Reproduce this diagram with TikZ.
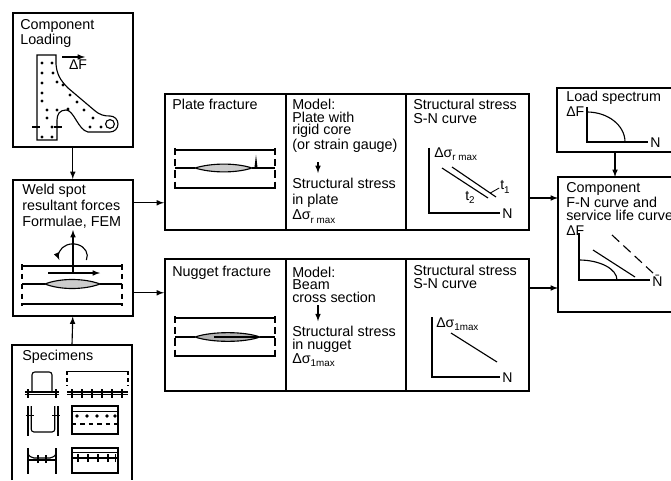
\documentclass[tikz,border=0pt]{standalone}
\usepackage{fontspec}
\setmainfont{Liberation Sans}
\newcommand{\lowtxt}[1]{\raisebox{-0.45ex}{\fontsize{7}{7}\selectfont #1}}
\newcommand{\dsig}[1]{Δσ\lowtxt{#1}}
\tikzset{
	box/.style={draw,line width=1.1pt,anchor=north west,inner sep=0pt},
	boxline/.style={line width=1.1pt},
	txt/.style={anchor=north west,inner sep=0pt,align=left,font=\fontsize{10.2}{#1}\selectfont},
	txt/.default=10pt,
	lbl/.style={inner sep=0pt,font=\fontsize{10}{10}\selectfont},
	fig/.style={thick},
	flow/.style={->,>=latex,thick},
	lens/.style={thick,fill=gray!40}
}
\begin{document}
\begin{tikzpicture}
	\useasboundingbox (0,0) rectangle (16.775,12);
	%boxes
	\node[box,minimum width=3cm,minimum height=3.35cm] (cl) at (0.3,11.7) {};		%component loading
	\node[box,minimum width=3cm,minimum height=3.4cm] (ws) at (0.3,7.525) {};		%weld spot
	\draw[boxline] (0.3,0) |- (3.3,3.375) -- (3.3,0);								%specimens
	\coordinate (sp) at (1.8,3.375);
	\node[box,minimum width=3.025cm,minimum height=3.4cm] (pf) at (4.1,9.675) {};
	\node[box,minimum width=3cm,minimum height=3.4cm] (pm) at (7.125,9.675) {};
	\node[box,minimum width=3.075cm,minimum height=3.4cm] (ps) at (10.125,9.675) {};
	\node[box,minimum width=3.025cm,minimum height=3.3cm] (nf) at (4.1,5.55) {};
	\node[box,minimum width=3cm,minimum height=3.3cm] (nm) at (7.125,5.55) {};
	\node[box,minimum width=3.075cm,minimum height=3.3cm] (ns) at (10.125,5.55) {};
	\draw[boxline] (16.775,9.8) -| (13.925,8.2) -- (16.775,8.2);					%load spectrum
	\draw[boxline] (16.775,7.575) -| (13.95,4.2) -- (16.775,4.2);					%component curve
	\coordinate (ls) at (15.375,8.2);
	\coordinate (cf) at (15.375,7.575);
	\coordinate (cf1) at (13.95,7.05);
	\coordinate (cf2) at (13.95,4.8);
	\coordinate (w1) at ([yshift=1.125cm]ws.east);
	\coordinate (w2) at ([yshift=-1.125cm]ws.east);
	
	%connectors
	\draw[flow] (cl.south) -- (ws.north);
	\draw[flow] (sp) -- (ws.south);
	\draw[flow] (w1) -- (w1 -| pf.west);
	\draw[flow] (w2) -- (w2 -| nf.west);
	\draw[flow] (cf1 -| ps.east) -- (cf1);
	\draw[flow] (cf2 -| ns.east) -- (cf2);
	\draw[flow] (ls) -- (cf);
	
	%texts
	\node[txt=10.7pt] (clt) at (0.5,11.525) {Component\\Loading};
	\node[txt=11.4pt] (wst) at (0.55,7.4) {Weld spot\\resultant forces\\Formulae, FEM};
	\node[txt] (spt) at (0.55,3.25) {Specimens};
	\node[txt] (pft) at (4.3,9.525) {Plate fracture};
	\node[txt=9pt] (pmt) at (7.3,9.525) {Model:\\Plate with\\rigid core\\(or strain gauge)};
	\node[txt=11pt] (pst) at (7.3,7.55) {Structural stress\\in plate\\\dsig{r max}};
	\node[txt] (pnt) at (10.325,9.525) {Structural stress\\S-N curve};
	\node[txt] (nft) at (4.3,5.35) {Nugget fracture};
	\node[txt=9pt] (nmt) at (7.3,5.34) {Model:\\Beam\\cross section};
	\node[txt=9.6pt] (nst) at (7.3,3.86) {Structural stress\\in nugget\\\dsig{1max}};
	\node[txt=9.6pt] (nnt) at (10.325,5.38) {Structural stress\\S-N curve};
	\node[txt] (lst) at (14.15,9.72) {Load spectrum};
	\node[txt=9.3pt] (cft) at (14.15,7.44) {Component\\F-N curve and\\service life curve};
	\draw[flow] (7.95,7.95) -- (7.95,7.675);	%model -> stress, plate
	\draw[flow] (7.95,4.375) -- (7.95,3.97);	%model -> stress, nugget
	
	%component loading
	\draw[fig] (0.925,8.5) -- (0.925,10.625) -- (1.4,10.625) -- (1.4,10.4)
		.. controls (1.42,10.15) and (1.5,10.0) .. (1.7,9.8) -- (2.35,9.25)
		.. controls (2.5,9.12) and (2.6,9.1) .. (2.75,9.1) arc[start angle=90,end angle=-90,radius=0.2]
		-- (2.2,8.7) .. controls (1.95,8.75) and (1.85,9.25) .. (1.65,9.25)
		.. controls (1.5,9.25) and (1.425,9.15) .. (1.425,9.0) -- (1.425,8.5) -- cycle;
	\draw[fig] (2.75,8.9) circle (0.11);
	\foreach \p in {(1.05,10.425),(1.3,10.425),(1.05,10.175),(1.325,10.175),(1.05,9.925),(1.425,9.95),
		(1.575,9.875),(1.05,9.675),(1.75,9.625),(1.05,9.475),(1.925,9.45),(1.175,9.25),(1.425,9.25),
		(1.7,9.275),(2.1,9.25),(1.175,9.05),(2.325,9.05),(2.25,8.825),(2.525,8.825),(1.3,8.825),
		(1.05,8.575),(1.3,8.575)}
		\fill \p circle (1.1pt);
	\draw[fig] (0.8,8.825) -- (1.0,8.825);
	\draw[fig] (1.35,8.825) -- (1.55,8.825);
	\draw[flow] (1.55,10.575) -- (2.125,10.575);
	\node[lbl] (dfc) at (1.95,10.375) {ΔF};
	
	%weld spot
	\draw[fig] (0.55,5.35) -- (3.05,5.35);
	\draw[fig] (0.55,4.9) -- (1.125,4.9) (2.5,4.9) -- (3.05,4.9);
	\draw[fig] (0.55,4.4) -- (3.05,4.4);
	\draw[fig,dash pattern=on 4pt off 3pt] (0.55,5.4) -- (0.55,4.35);
	\draw[fig,dash pattern=on 4pt off 3pt] (3.05,5.4) -- (3.05,4.35);
	\draw[lens] (1.125,4.9) .. controls (1.5,5.05) and (2.1,5.05) .. (2.5,4.9) .. controls (2.1,4.75) and (1.5,4.75) .. cycle;
	\draw[flow] (1.825,5.175) -- (1.825,6.25);
	\draw[flow] (1.2,5.175) -- (2.5,5.175);
	\draw[flow] (2.16,5.5) arc[start angle=-20,end angle=200,x radius=0.36,y radius=0.3];
	
	%specimens
	\draw[fig,rounded corners=2pt] (0.8,2.2) -- (0.8,2.7) -- (1.3,2.7) -- (1.3,2.2);
	\draw[fig] (0.62,2.2) -- (1.48,2.2) (0.62,2.14) -- (1.48,2.14);
	\foreach \x in {0.7,1.4} \draw[fig] (\x,2.06) -- (\x,2.28);
	\draw[fig] (1.675,2.72) -- (3.2,2.72);
	\draw[fig,densely dashed] (1.675,2.72) -- (1.675,2.35) (3.2,2.72) -- (3.2,2.35);
	\draw[fig] (1.675,2.2) -- (3.2,2.2) (1.675,2.14) -- (3.2,2.14);
	\foreach \x in {1.8,2.05,2.3,2.55,2.8,3.05} \draw[fig] (\x,2.06) -- (\x,2.28);
	\draw[fig] (0.7,1.85) -- (0.7,1.1) (1.45,1.85) -- (1.45,1.1);
	\draw[fig,rounded corners=2pt] (0.78,1.85) -- (0.78,1.2) -- (1.37,1.2) -- (1.37,1.85);
	\foreach \x in {0.74,1.41} \draw[fig] (\x-0.1,1.62) -- (\x+0.1,1.62);
	\draw[fig] (1.8,1.15) rectangle (2.95,1.85);
	\draw[fig] (1.8,1.72) -- (2.95,1.72);
	\foreach \x in {1.925,2.175,2.425,2.675,2.875} \fill (\x,1.6) circle (1.3pt);
	\draw[fig,dashed] (1.8,1.4) -- (2.95,1.4);
	\draw[fig] (0.7,0.8) -- (0.7,0.15) (1.4,0.8) -- (1.4,0.15);
	\draw[fig] (0.7,0.8) .. controls (0.7,0.6) .. (0.85,0.55) -- (1.25,0.55) .. controls (1.4,0.6) .. (1.4,0.8);
	\draw[fig] (0.7,0.5) -- (1.4,0.5);
	\foreach \x in {0.95,1.15} \draw[fig] (\x,0.42) -- (\x,0.63);
	\draw[fig] (1.8,0.175) rectangle (2.95,0.8);
	\draw[fig] (1.8,0.68) -- (2.95,0.68) (1.8,0.55) -- (2.95,0.55);
	\foreach \x in {1.95,2.2,2.45,2.7,2.88} \draw[fig] (\x,0.45) -- (\x,0.65);
	
	%plate fracture
	\draw[fig] (4.375,8.25) -- (6.875,8.25);
	\draw[fig] (4.375,7.8) -- (4.875,7.8) (6.3,7.8) -- (6.875,7.8);
	\draw[fig] (4.375,7.3) -- (6.875,7.3);
	\draw[fig,dash pattern=on 5pt off 3pt] (4.375,8.3) -- (4.375,7.25) (6.875,8.3) -- (6.875,7.25);
	\draw[lens] (4.875,7.8) .. controls (5.3,7.93) and (5.9,7.93) .. (6.3,7.8) .. controls (5.9,7.67) and (5.3,7.67) .. cycle;
	\fill (6.36,7.8) -- (6.4,8.13) -- (6.44,7.8) -- cycle;
	
	%nugget fracture
	\draw[fig] (4.375,4.05) -- (6.875,4.05);
	\draw[fig] (4.375,3.575) -- (4.875,3.575) (6.5,3.575) -- (6.875,3.575);
	\draw[fig] (4.375,3.1) -- (6.875,3.1);
	\draw[fig,dash pattern=on 5pt off 3pt] (4.375,4.1) -- (4.375,3.05) (6.875,4.1) -- (6.875,3.05);
	\draw[lens,fill=gray!60] (4.875,3.575) .. controls (5.3,3.72) and (6.1,3.72) .. (6.5,3.575) .. controls (6.1,3.43) and (5.3,3.43) .. cycle;
	\draw[line width=1.6pt] (5.35,3.575) -- (6.45,3.575);
	
	%S-N curve, plate
	\draw[fig] (10.725,8.3) -- (10.725,6.675) -- (12.5,6.675);
	\node[lbl,anchor=west] (pn) at (12.55,6.66) {N};
	\node[lbl,anchor=west] (pdy) at (10.85,8.15) {\dsig{r max}};
	\draw[fig] (11.05,7.8) -- (12.2,7.05);
	\draw[fig] (11.3,7.825) -- (12.4,7.075);
	\node[lbl,anchor=west] (t1) at (12.5,7.33) {t\lowtxt{1}};
	\draw[semithick] (12.25,7.17) -- (12.48,7.3);
	\node[lbl] (t2) at (11.75,7.06) {t\lowtxt{2}};
	
	%S-N curve, nugget
	\draw[fig] (10.8,4.075) -- (10.8,2.575) -- (12.5,2.575);
	\node[lbl,anchor=west] (nn) at (12.55,2.55) {N};
	\node[lbl,anchor=west] (ndy) at (10.9,3.9) {\dsig{1max}};
	\draw[fig] (11.275,3.675) -- (12.425,2.95);
	
	%load spectrum
	\draw[fig] (14.675,9.325) -- (14.675,8.45) -- (16.2,8.45);
	\node[lbl,anchor=west] (ln) at (16.25,8.43) {N};
	\node[lbl,anchor=west] (ldf) at (14.15,9.2) {ΔF};
	\draw[fig] (14.675,9.2) arc[start angle=90,end angle=0,x radius=0.95,y radius=0.75];
	
	%component F-N curve
	\draw[fig] (14.475,6.175) -- (14.475,5.0) -- (16.25,5.0);
	\node[lbl,anchor=west] (cn) at (16.3,4.98) {\=N};
	\node[lbl,anchor=west] (cdf) at (14.15,6.24) {ΔF};
	\draw[fig] (14.475,5.5) arc[start angle=90,end angle=0,x radius=0.95,y radius=0.5];
	\draw[fig] (14.825,5.75) -- (15.875,5.075);
	\draw[fig,dash pattern=on 7pt off 4pt] (15.3,6.125) -- (16.325,5.175);
\end{tikzpicture}
\end{document}
